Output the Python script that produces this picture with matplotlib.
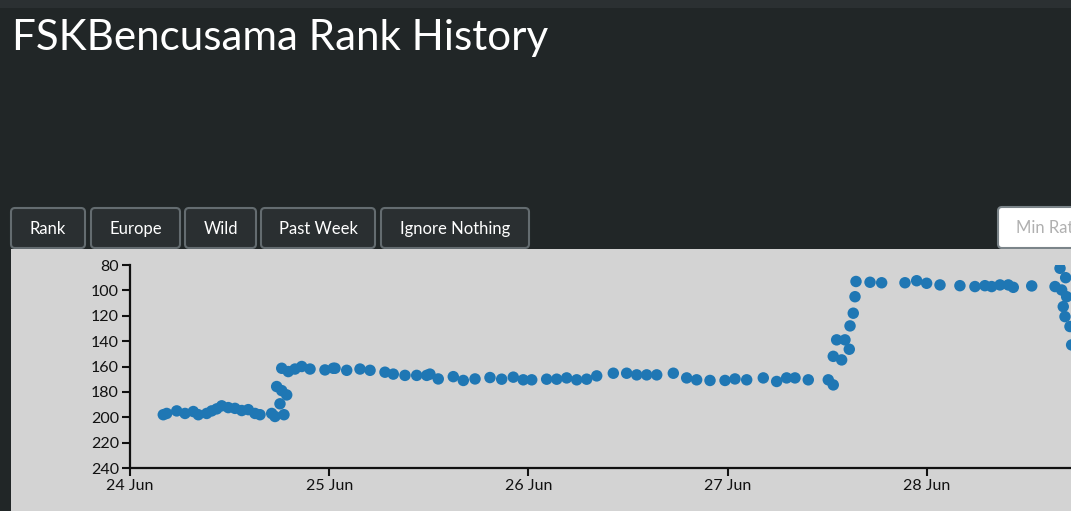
import matplotlib
matplotlib.use("Agg")
import matplotlib.pyplot as plt
from matplotlib.patches import FancyBboxPatch, Rectangle

plt.rcParams['font.family'] = ['Lato', 'DejaVu Sans']

title = "FSKBencusama Rank History"
buttons = ["Rank", "Europe", "Wild", "Past Week", "Ignore Nothing"]
input_placeholder = "Min Rating"

# hours since 24 Jun 00:00
hours = [4.01, 4.42, 5.63, 6.63, 7.63, 8.23, 9.24, 9.84, 10.45, 11.05, 11.84, 12.65,
         13.46, 14.25, 15.06, 15.66, 17.07, 17.47, 18.07, 18.55, 17.67, 18.28, 18.88,
         18.28, 19.07, 19.88, 20.69, 21.69, 23.49, 24.49,
         24.70, 26.11, 27.71, 28.92, 30.72, 31.72, 33.13, 34.54, 35.75, 36.14, 37.14,
         38.95, 40.16, 41.57, 43.37, 44.78, 46.18, 47.38,
         48.40, 50.20, 51.41, 52.61, 53.82, 55.02, 56.23, 58.23, 59.84, 61.05, 62.25,
         63.46, 65.46, 67.07, 68.27, 69.88, 71.69,
         72.89, 74.30, 76.30, 77.91, 79.11, 80.12, 81.72, 84.13, 84.73, 84.73, 85.74,
         85.14, 86.14, 86.66, 86.75, 87.14, 87.35, 87.47, 89.16, 90.56, 93.37, 94.78,
         95.98,
         97.59, 99.99, 101.80, 103.00, 103.81, 104.82, 105.82, 106.42, 108.64, 111.45,
         112.05, 112.73, 112.25, 112.85, 112.44, 112.65, 113.25, 113.45]
ranks = [198, 197, 195, 197, 195.5, 198, 197, 195, 193.4, 191, 192.4, 193,
         194.7, 194, 197, 198, 197, 199.4, 189.4, 198, 175.8, 179, 182.4,
         161.4, 164, 162, 160, 162, 162.7, 161.4,
         161.4, 163, 162, 163, 164.5, 166, 167, 167, 167, 166, 169.8,
         168, 171, 169.8, 168.7, 170, 168.4, 170.5,
         170.5, 170, 170, 169, 170.5, 170, 167.4, 165.3, 165.3, 166.6, 166.6,
         166.6, 165.3, 169, 170.5, 171, 171,
         169.8, 170.5, 169, 171.8, 169, 169, 170.5, 170.5, 174.5, 152, 154.8,
         139, 139, 146.4, 128, 118, 105, 93, 93.6, 94, 94, 92.4,
         94.4,
         95.7, 96.3, 97, 96.3, 97, 95.7, 95.7, 97.6, 96.5, 97,
         82.6, 90, 99.7, 105, 112.8, 120.7, 128.5, 143]

y_ticks = [80, 100, 120, 140, 160, 180, 200, 220, 240]
x_ticks = [0, 24, 48, 72, 96]
x_tick_labels = ["24 Jun", "25 Jun", "26 Jun", "27 Jun", "28 Jun"]

W, H = 1071, 511
fig = plt.figure(figsize=(W / 100, H / 100), dpi=100)
fig.patch.set_facecolor('#212627')

# background / page elements in pixel coordinates
bg = fig.add_axes([0, 0, 1, 1], zorder=0)
bg.set_xlim(0, W)
bg.set_ylim(H, 0)
bg.axis('off')
bg.add_patch(Rectangle((0, 0), W, 8, facecolor='#2b3032', edgecolor='none'))
bg.text(12, 50, title, color='white', fontsize=30.3, ha='left', va='baseline')

btn_x = [(11, 85), (91, 180), (185, 256), (261, 375), (381, 529)]
for (x0, x1), label in zip(btn_x, buttons):
    bg.add_patch(FancyBboxPatch((x0 + 3, 208 + 3), x1 - x0 - 6, 40 - 6,
                                boxstyle="round,pad=3,rounding_size=4",
                                facecolor='#2a2f31', edgecolor='#646c70', linewidth=1.5))
    bg.text((x0 + x1) / 2, 229, label, color='white', fontsize=12,
            ha='center', va='center')

bg.add_patch(FancyBboxPatch((998 + 3, 207 + 3), 120, 41 - 6,
                            boxstyle="round,pad=3,rounding_size=4",
                            facecolor='white', edgecolor='#7b8489', linewidth=1.5))
bg.text(1016, 228, input_placeholder, color='#b0b0b0', fontsize=12,
        ha='left', va='center', clip_on=True)

bg.add_patch(Rectangle((11, 249), W - 11, H - 249, facecolor='#d3d3d3', edgecolor='none'))

# chart axes
ax = fig.add_axes([130 / W, 43 / H, (W - 130) / W, (468 - 265) / H], zorder=1)
ax.patch.set_visible(False)
ax.scatter(hours, ranks, s=68, color='#1f77b4', edgecolors='none', zorder=3)
ax.set_ylim(240, 80)
ax.set_xlim(0, (W - 130) / 199.2 * 24)
ax.set_yticks(y_ticks)
ax.set_xticks(x_ticks)
ax.set_xticklabels(x_tick_labels)
for s in ['top', 'right']:
    ax.spines[s].set_visible(False)
for s in ['left', 'bottom']:
    ax.spines[s].set_linewidth(1.6)
    ax.spines[s].set_color('#111111')
ax.tick_params(axis='both', length=6, width=1.5, colors='#111111',
               labelsize=11.5, labelcolor='#111111', pad=2)

fig.savefig('out.png', dpi=100, facecolor=fig.get_facecolor())
